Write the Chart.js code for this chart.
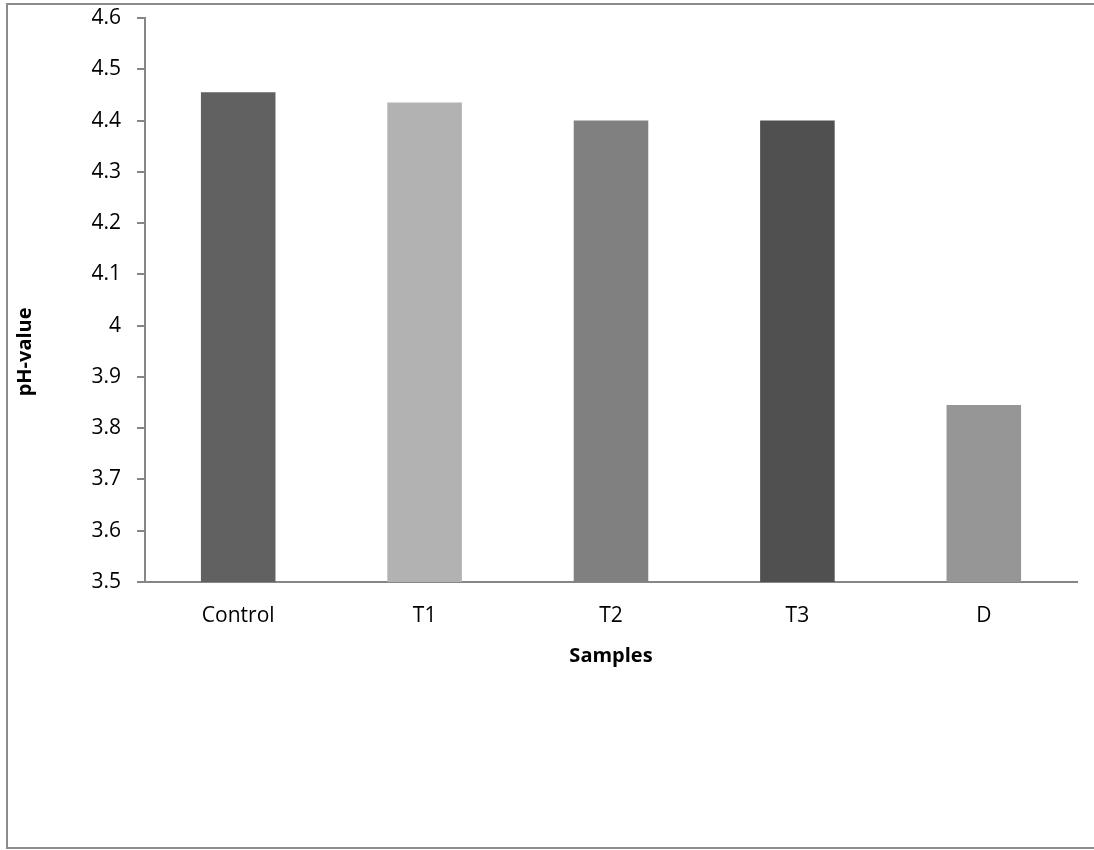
<!DOCTYPE html>
<html>
<head>
<meta charset="utf-8">
<script src="https://cdn.jsdelivr.net/npm/chart.js@4/dist/chart.umd.min.js"></script>
<style>
  html, body { margin: 0; padding: 0; background: #fff; }
  #wrap { position: relative; width: 1094px; height: 850px; }
</style>
</head>
<body>
<div id="wrap"><canvas id="c" width="1094" height="850"></canvas></div>
<script>
const categories = ['Control', 'T1', 'T2', 'T3', 'D'];
const phValues = [4.455, 4.435, 4.40, 4.40, 3.845];
const barColors = ['#616161', '#b2b2b2', '#808080', '#505050', '#969696'];
const yTitle = 'pH-value';
const xTitle = 'Samples';

const axisGray = '#868686';
const fontFamily = '"Open Sans", Lato, sans-serif';

// outer frame around the chart
const framePlugin = {
  id: 'frame',
  afterDraw(chart) {
    const ctx = chart.ctx;
    ctx.save();
    ctx.strokeStyle = '#8c8c8c';
    ctx.lineWidth = 2;
    ctx.beginPath();
    ctx.moveTo(1100, 4);
    ctx.lineTo(7, 4);
    ctx.lineTo(7, 848);
    ctx.lineTo(1100, 848);
    ctx.stroke();
    ctx.restore();
  }
};

// vertical value-axis title, set a little below the axis middle
const yTitlePlugin = {
  id: 'yTitle',
  afterDraw(chart) {
    const ctx = chart.ctx;
    const area = chart.chartArea;
    ctx.save();
    ctx.translate(25, area.top + (area.bottom - area.top) * 0.592);
    ctx.rotate(-Math.PI / 2);
    ctx.fillStyle = '#000';
    ctx.font = 'bold 20px ' + fontFamily;
    ctx.textAlign = 'center';
    ctx.textBaseline = 'middle';
    ctx.fillText(yTitle, 0, 0);
    ctx.restore();
  }
};

new Chart(document.getElementById('c'), {
  type: 'bar',
  data: {
    labels: categories,
    datasets: [{
      label: yTitle,
      data: phValues,
      backgroundColor: barColors,
      borderWidth: 0,
      barPercentage: 0.4,
      categoryPercentage: 1.0
    }]
  },
  options: {
    responsive: false,
    animation: false,
    devicePixelRatio: 1,
    layout: { padding: { left: 0, top: 18, right: 17, bottom: 182 } },
    plugins: {
      legend: { display: false },
      tooltip: { enabled: false }
    },
    scales: {
      x: {
        grid: { display: false },
        border: { display: true, color: axisGray, width: 2 },
        ticks: {
          color: '#000',
          font: { family: fontFamily, size: 21 },
          padding: 13
        },
        title: {
          display: true,
          text: xTitle,
          color: '#000',
          font: { family: fontFamily, size: 20, weight: 'bold' },
          padding: { top: 6, bottom: 0 }
        },
        afterFit(scale) { scale.height = 86; }
      },
      y: {
        min: 3.5,
        max: 4.6,
        grid: {
          display: true,
          drawOnChartArea: false,
          drawTicks: true,
          tickLength: 8,
          color: axisGray,
          lineWidth: 2
        },
        border: { display: true, color: axisGray, width: 2 },
        ticks: {
          stepSize: 0.1,
          color: '#000',
          font: { family: fontFamily, size: 21 },
          padding: 16,
          callback(v) { return Math.round(v * 10) / 10; }
        },
        title: { display: false },
        afterFit(scale) {
          scale.width = 145;
          scale.paddingTop = 0;
          scale.paddingBottom = 0;
        }
      }
    }
  },
  plugins: [framePlugin, yTitlePlugin]
});
</script>
</body>
</html>
